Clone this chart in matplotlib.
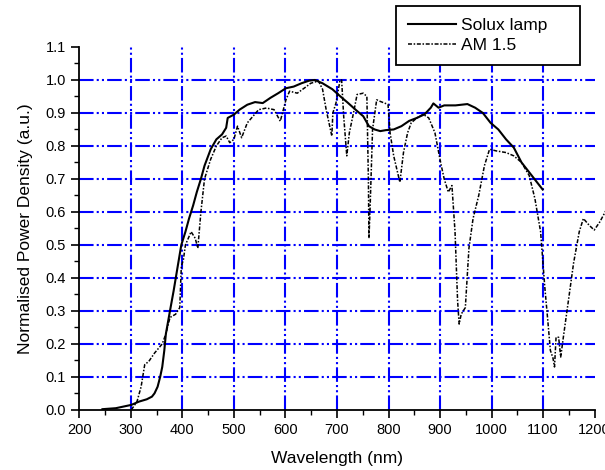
import matplotlib
matplotlib.use('Agg')
import matplotlib.pyplot as plt
from matplotlib.ticker import MultipleLocator

plt.rcParams['font.family'] = ['Liberation Sans', 'DejaVu Sans']

# Solux lamp spectrum (normalised)
solux_wl = [245, 271, 286, 301, 316, 331, 341, 346, 352, 357, 361, 365, 368, 376, 383, 391,
            398, 406, 413, 421, 428, 436, 443, 455, 466, 477, 485, 488, 500, 511, 526, 541,
            556, 571, 586, 601, 616, 631, 646, 657, 672, 691, 706, 721, 736, 751, 762, 773,
            784, 795, 810, 825, 840, 855, 870, 882, 887, 897, 908, 930, 953, 968, 983, 998,
            1013, 1028, 1043, 1058, 1073, 1088, 1099]
solux_val = [0.002, 0.005, 0.01, 0.015, 0.025, 0.032, 0.04, 0.05, 0.07, 0.10, 0.13, 0.18,
             0.23, 0.30, 0.36, 0.435, 0.50, 0.54, 0.58, 0.62, 0.66, 0.70, 0.74, 0.79, 0.82,
             0.835, 0.855, 0.885, 0.895, 0.91, 0.925, 0.933, 0.93, 0.946, 0.96, 0.975, 0.98,
             0.99, 0.998, 1.0, 0.99, 0.972, 0.951, 0.931, 0.91, 0.89, 0.86, 0.85, 0.845,
             0.848, 0.85, 0.86, 0.876, 0.885, 0.896, 0.916, 0.929, 0.916, 0.923, 0.923, 0.927,
             0.916, 0.90, 0.87, 0.85, 0.82, 0.795, 0.75, 0.72, 0.69, 0.668]

# AM 1.5 solar spectrum (normalised)
am_wl = [301, 312, 320, 327, 335, 346, 361, 368, 376, 387, 395, 398, 402, 406, 417, 425,
         430, 436, 443, 455, 466, 477, 485, 492, 500, 507, 515, 526, 537, 548, 563, 578,
         590, 601, 608, 623, 638, 649, 664, 672, 679, 690, 692, 698, 706, 709, 713, 719,
         724, 732, 739, 751, 758, 761, 762, 764, 769, 777, 784, 799, 803, 810, 822, 829,
         837, 844, 855, 867, 878, 890, 901, 908, 916, 923, 929, 934, 937, 941, 949, 956,
         964, 975, 986, 996, 1009, 1028, 1043, 1058, 1073, 1084, 1095, 1103, 1109, 1114,
         1119, 1122, 1125, 1130, 1134, 1140, 1148, 1159, 1170, 1178, 1189, 1199, 1210, 1222]
am_val = [0.0, 0.025, 0.07, 0.137, 0.147, 0.172, 0.20, 0.23, 0.28, 0.29, 0.31, 0.435,
          0.455, 0.50, 0.54, 0.52, 0.49, 0.60, 0.70, 0.76, 0.80, 0.825, 0.83, 0.81, 0.82,
          0.86, 0.825, 0.87, 0.89, 0.91, 0.915, 0.91, 0.875, 0.94, 0.966, 0.96, 0.977, 0.99,
          0.997, 0.972, 0.91, 0.83, 0.90, 0.93, 1.0, 1.0, 0.89, 0.77, 0.84, 0.90, 0.956,
          0.96, 0.95, 0.69, 0.52, 0.60, 0.85, 0.94, 0.935, 0.926, 0.84, 0.77, 0.69, 0.78,
          0.84, 0.87, 0.885, 0.896, 0.885, 0.84, 0.75, 0.70, 0.66, 0.68, 0.54, 0.33, 0.26,
          0.29, 0.31, 0.49, 0.58, 0.65, 0.74, 0.79, 0.785, 0.78, 0.77, 0.75, 0.71, 0.64,
          0.54, 0.375, 0.27, 0.18, 0.157, 0.13, 0.22, 0.22, 0.16, 0.23, 0.32, 0.445, 0.54,
          0.58, 0.56, 0.545, 0.57, 0.605]

x_major = [200, 300, 400, 500, 600, 700, 800, 900, 1000, 1100, 1200]
y_major = [0.0, 0.1, 0.2, 0.3, 0.4, 0.5, 0.6, 0.7, 0.8, 0.9, 1.0, 1.1]

fig = plt.figure(figsize=(6.05, 4.70), dpi=100)
ax = fig.add_axes([0.131, 0.128, 0.852, 0.772])

grid_dash = (7, 1.5, 1, 1.5, 1, 1.5)
for xv in x_major[1:-1]:
    ax.axvline(xv, color='#0000ff', lw=1.5, dashes=grid_dash, zorder=1)
for yv in y_major[1:-1]:
    ax.axhline(yv, color='#0000ff', lw=1.5, dashes=grid_dash, zorder=1)

ax.plot(solux_wl, solux_val, color='black', lw=1.5, label='Solux lamp', zorder=3)
ax.plot(am_wl, am_val, color='black', lw=1.1, dashes=(2.6, 1.1, 1, 1.1), label='AM 1.5',
        zorder=3, clip_on=False)

ax.set_xlim(200, 1200)
ax.set_ylim(0, 1.1)
ax.set_xticks(x_major)
ax.set_yticks(y_major)
ax.set_yticklabels(['%.1f' % v for v in y_major])
ax.xaxis.set_minor_locator(MultipleLocator(50))
ax.yaxis.set_minor_locator(MultipleLocator(0.05))
ax.tick_params(which='major', direction='out', length=6, width=1.2, labelsize=10.5)
ax.tick_params(which='minor', direction='out', length=3.5, width=1.0)

ax.spines['top'].set_visible(False)
ax.spines['right'].set_visible(False)
ax.spines['left'].set_linewidth(1.3)
ax.spines['bottom'].set_linewidth(1.3)

ax.set_xlabel('Wavelength (nm)', fontsize=12.5, labelpad=10)
ax.set_ylabel('Normalised Power Density (a.u.)', fontsize=12.5, labelpad=9)

leg = fig.legend(loc='upper left', bbox_to_anchor=(396 / 605, 1 - 64 / 470, 184 / 605, 58 / 470),
                 mode='expand', fontsize=12.5, handlelength=2.8, handletextpad=0.25,
                 fancybox=False, framealpha=1, edgecolor='black', borderpad=0.68,
                 borderaxespad=0, labelspacing=0.3)
leg.get_frame().set_linewidth(1.3)

fig.savefig('out.png', dpi=100)
